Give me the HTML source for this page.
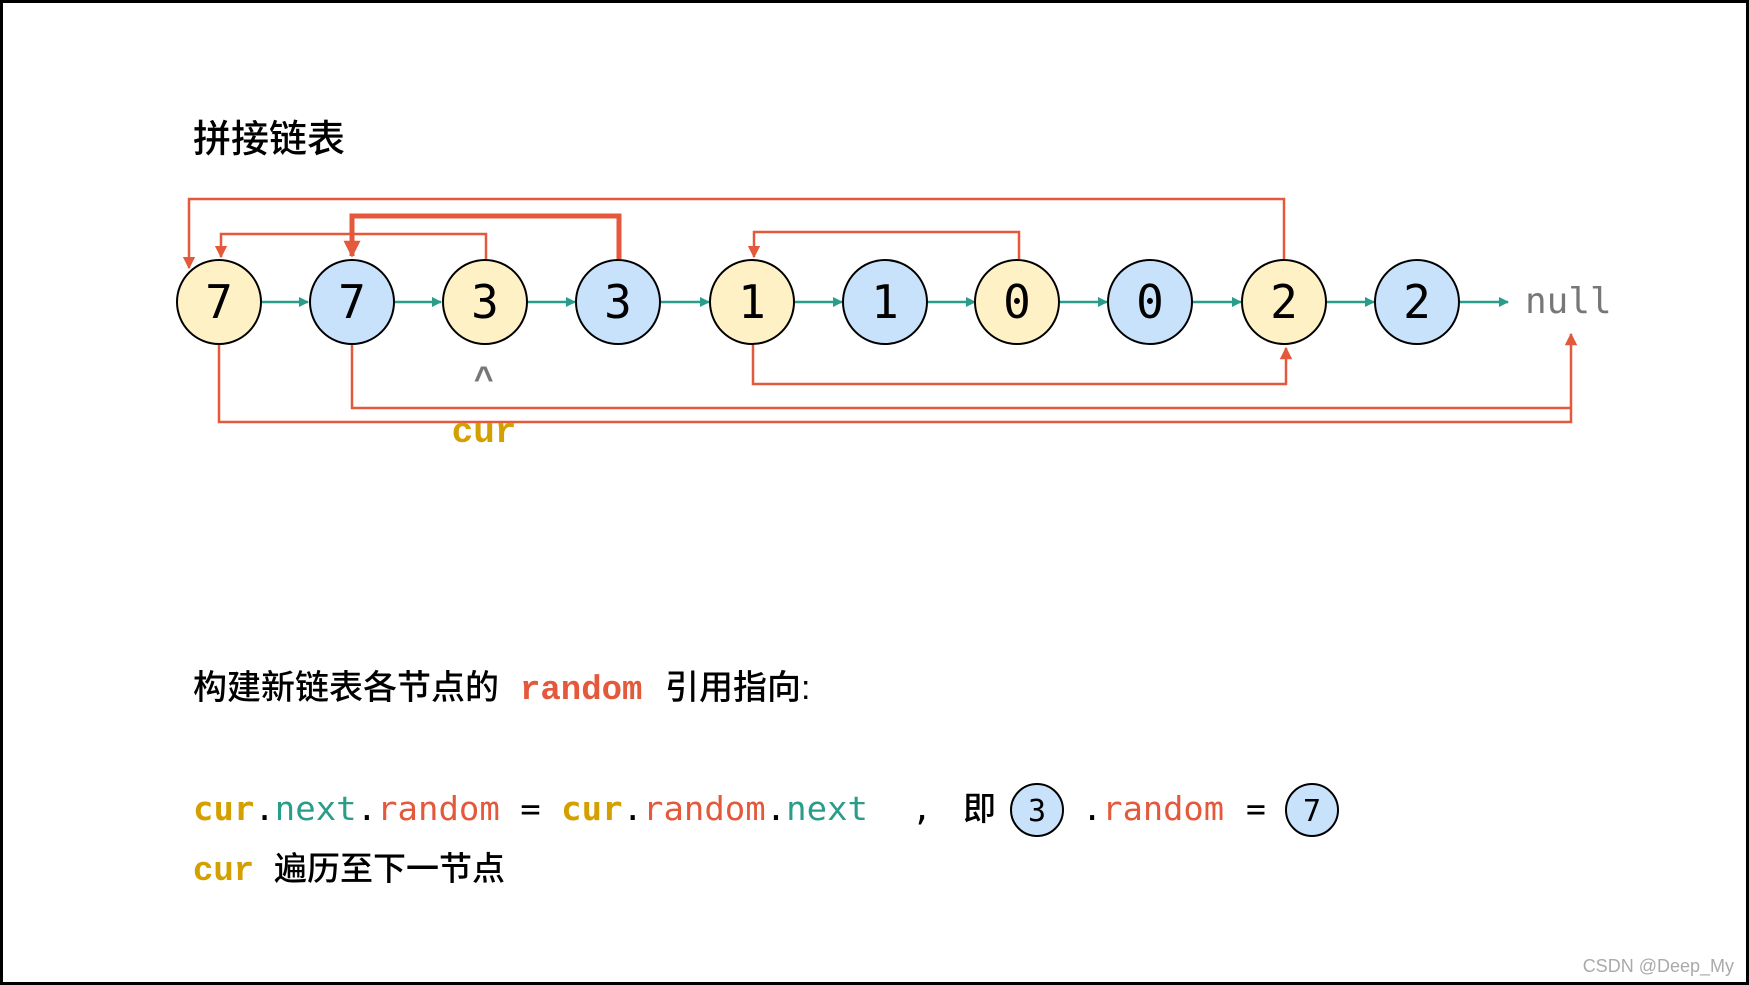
<!DOCTYPE html>
<html><head><meta charset="utf-8"><style>
html,body{margin:0;padding:0;background:#fff}
svg{display:block}
</style></head><body>
<svg width="1749" height="985" viewBox="0 0 1749 985" xmlns="http://www.w3.org/2000/svg">
<defs>
<marker id="g" viewBox="0 0 10 10" refX="9" refY="5" markerWidth="4" markerHeight="4" orient="auto"><path d="M0,0L10,5L0,10z" fill="#2a9d8a"/></marker>
<marker id="r" viewBox="0 0 10 10" refX="9" refY="5" markerWidth="5" markerHeight="5" orient="auto"><path d="M0,0L10,5L0,10z" fill="#e4583b"/></marker>
<marker id="r2" viewBox="0 0 10 10" refX="9" refY="5" markerWidth="3.4" markerHeight="3.4" orient="auto"><path d="M0,0L10,5L0,10z" fill="#e4583b"/></marker>
</defs>
<rect x="1.5" y="1.5" width="1746" height="982" fill="#fff" stroke="#000" stroke-width="3"/>
<text x="193" y="152" font-family="'Liberation Sans','Noto Sans CJK SC',sans-serif" font-size="38" font-weight="500" fill="#000">拼接链表</text>

<g fill="none" stroke="#e4583b" stroke-width="2.5">
<polyline points="1284,259 1284,199 189,199 189,268" marker-end="url(#r)"/>
<polyline points="486,259 486,234 221,234 221,257" marker-end="url(#r)"/>
<polyline points="1019,259 1019,232 754,232 754,257" marker-end="url(#r)"/>
<polyline points="753,343 753,384 1286,384 1286,348" marker-end="url(#r)"/>
<polyline points="352,343 352,408 1571,408"/>
<polyline points="219,343 219,422 1571,422 1571,334" marker-end="url(#r)"/>
<polyline points="619,259 619,216 352,216 352,256" stroke-width="5" marker-end="url(#r2)"/>
</g>

<g stroke="#2a9d8a" stroke-width="2.5" marker-end="url(#g)">
<line x1="261" y1="302" x2="308" y2="302"/>
<line x1="393" y1="302" x2="441" y2="302"/>
<line x1="526" y1="302" x2="575" y2="302"/>
<line x1="660" y1="302" x2="709" y2="302"/>
<line x1="794" y1="302" x2="842" y2="302"/>
<line x1="927" y1="302" x2="975" y2="302"/>
<line x1="1059" y1="302" x2="1107" y2="302"/>
<line x1="1192" y1="302" x2="1241" y2="302"/>
<line x1="1326" y1="302" x2="1374" y2="302"/>
<line x1="1459" y1="302" x2="1508" y2="302"/>
</g>

<g stroke="#000" stroke-width="2">
<circle cx="219" cy="302" r="42" fill="#fff1c6"/>
<circle cx="352" cy="302" r="42" fill="#c8e2fb"/>
<circle cx="485" cy="302" r="42" fill="#fff1c6"/>
<circle cx="618" cy="302" r="42" fill="#c8e2fb"/>
<circle cx="752" cy="302" r="42" fill="#fff1c6"/>
<circle cx="885" cy="302" r="42" fill="#c8e2fb"/>
<circle cx="1017" cy="302" r="42" fill="#fff1c6"/>
<circle cx="1150" cy="302" r="42" fill="#c8e2fb"/>
<circle cx="1284" cy="302" r="42" fill="#fff1c6"/>
<circle cx="1417" cy="302" r="42" fill="#c8e2fb"/>
</g>
<g font-family="'DejaVu Sans Mono','Liberation Mono',monospace" font-size="46" text-anchor="middle" fill="#000">
<text x="219" y="318">7</text><text x="352" y="318">7</text><text x="485" y="318">3</text><text x="618" y="318">3</text>
<text x="752" y="318">1</text><text x="885" y="318">1</text><text x="1017" y="318">0</text><text x="1150" y="318">0</text>
<text x="1284" y="318">2</text><text x="1417" y="318">2</text>
</g>
<text x="1525" y="313" font-family="'DejaVu Sans Mono','Liberation Mono',monospace" font-size="36" fill="#777">null</text>
<text x="484" y="390" text-anchor="middle" font-family="'Liberation Mono',monospace" font-weight="bold" font-size="34" fill="#777">^</text>
<text x="484" y="442" text-anchor="middle" font-family="'Liberation Mono',monospace" font-weight="bold" font-size="36" fill="#d4a000">cur</text>

<text x="193" y="699" font-family="'Liberation Sans','Noto Sans CJK SC',sans-serif" font-size="34" font-weight="500" fill="#000">构建新链表各节点的</text>
<text x="520" y="699" font-family="'Liberation Mono',monospace" font-weight="bold" fill="#e4583b" font-size="34">random</text>
<text x="665" y="699" font-family="'Liberation Sans','Noto Sans CJK SC',sans-serif" font-size="34" font-weight="500" fill="#000">引用指向:</text>

<g font-family="'DejaVu Sans Mono','Liberation Mono',monospace" font-size="33">
<text x="193" y="820" textLength="675" lengthAdjust="spacingAndGlyphs"><tspan fill="#d4a000" font-weight="bold">cur</tspan><tspan fill="#000">.</tspan><tspan fill="#2a9d8a">next</tspan><tspan fill="#000">.</tspan><tspan fill="#e4583b">random</tspan><tspan fill="#000"> = </tspan><tspan fill="#d4a000" font-weight="bold">cur</tspan><tspan fill="#000">.</tspan><tspan fill="#e4583b">random</tspan><tspan fill="#000">.</tspan><tspan fill="#2a9d8a">next</tspan></text>
<text x="912" y="820" fill="#000">,</text>
<text x="963" y="820" font-family="'Liberation Sans','Noto Sans CJK SC',sans-serif" font-size="33" font-weight="500" fill="#000">即</text>
<text x="1082" y="820" textLength="142" lengthAdjust="spacingAndGlyphs"><tspan fill="#000">.</tspan><tspan fill="#e4583b">random</tspan></text>
<text x="1246" y="820" fill="#000">=</text>
</g>
<circle cx="1037" cy="810" r="26" fill="#c8e2fb" stroke="#000" stroke-width="2"/>
<circle cx="1312" cy="810" r="26" fill="#c8e2fb" stroke="#000" stroke-width="2"/>
<text x="1037" y="821" text-anchor="middle" font-family="'DejaVu Sans Mono',monospace" font-size="30" fill="#000">3</text>
<text x="1312" y="821" text-anchor="middle" font-family="'DejaVu Sans Mono',monospace" font-size="30" fill="#000">7</text>

<text x="193" y="880" font-family="'Liberation Mono',monospace" font-weight="bold" fill="#d4a000" font-size="34">cur</text>
<text x="274" y="880" font-family="'Liberation Sans','Noto Sans CJK SC',sans-serif" font-size="33" font-weight="500" fill="#000">遍历至下一节点</text>

<text x="1734" y="972" text-anchor="end" font-family="'Liberation Sans',sans-serif" font-size="18" fill="#aaa">CSDN @Deep_My</text>
</svg>
</body></html>
